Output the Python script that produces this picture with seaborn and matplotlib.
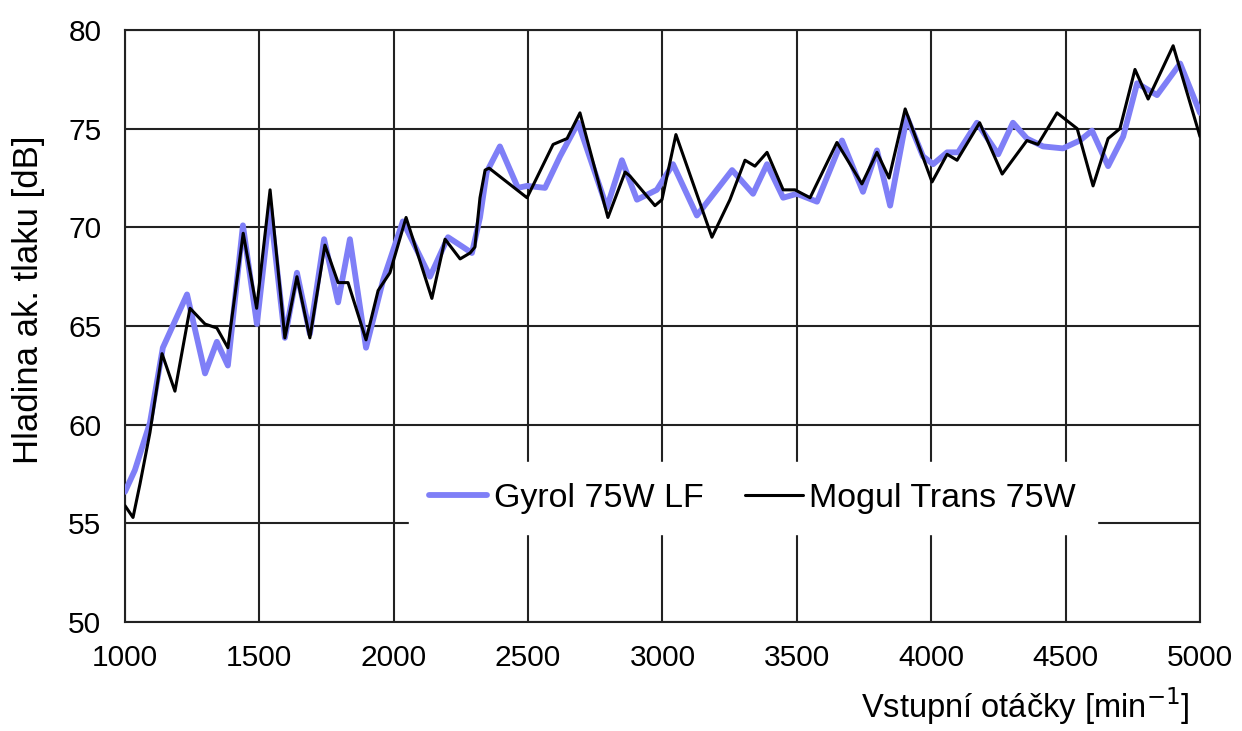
import matplotlib
matplotlib.use("Agg")
import matplotlib.pyplot as plt
import seaborn as sns
import pandas as pd

# Mogul Trans 75W (black)
mogul_rpm = [1000, 1030, 1056, 1093, 1138, 1186, 1242, 1298, 1342, 1383, 1440, 1490,
             1540, 1595, 1640, 1688, 1744, 1793, 1830, 1897, 1942, 1986, 2046, 2142,
             2191, 2247, 2284, 2302, 2321, 2340, 2355, 2496, 2593, 2645, 2693, 2797,
             2861, 2879, 2972, 2998, 3050, 3184, 3251, 3307, 3344, 3389, 3449, 3493,
             3549, 3649, 3742, 3798, 3843, 3903, 4003, 4059, 4096, 4180, 4264, 4356,
             4397, 4468, 4543, 4602, 4658, 4702, 4758, 4807, 4900, 5000]
mogul_db = [55.9, 55.3, 57.0, 59.6, 63.6, 61.7, 65.9, 65.1, 64.9, 63.9, 69.7, 65.9,
            71.9, 64.4, 67.5, 64.4, 69.1, 67.2, 67.2, 64.3, 66.8, 67.7, 70.5, 66.4,
            69.4, 68.4, 68.7, 69.0, 71.5, 72.9, 73.0, 71.5, 74.2, 74.5, 75.8, 70.5,
            72.8, 72.6, 71.1, 71.4, 74.7, 69.5, 71.4, 73.4, 73.1, 73.8, 71.9, 71.9,
            71.5, 74.3, 72.2, 73.8, 72.5, 76.0, 72.3, 73.7, 73.4, 75.3, 72.7, 74.4,
            74.2, 75.8, 75.0, 72.1, 74.5, 75.0, 78.0, 76.5, 79.2, 74.6]

# Gyrol 75W LF (blue)
gyrol_rpm = [1000, 1037, 1093, 1141, 1231, 1298, 1342, 1383, 1439, 1491, 1540, 1595,
             1640, 1688, 1741, 1793, 1837, 1897, 1960, 2034, 2135, 2202, 2258, 2291,
             2321, 2346, 2395, 2462, 2496, 2563, 2619, 2686, 2793, 2849, 2905, 2979,
             3039, 3128, 3259, 3337, 3389, 3449, 3500, 3575, 3668, 3746, 3798, 3847,
             3909, 3969, 4007, 4059, 4100, 4170, 4249, 4304, 4356, 4416, 4490, 4553,
             4598, 4658, 4714, 4766, 4840, 4926, 5000]
gyrol_db = [56.6, 57.7, 60.1, 63.9, 66.6, 62.6, 64.2, 63.0, 70.1, 65.1, 71.0, 64.4,
            67.7, 64.6, 69.4, 66.2, 69.4, 63.9, 67.3, 70.3, 67.5, 69.5, 69.0, 68.7,
            70.5, 72.8, 74.1, 72.0, 72.1, 72.0, 73.6, 75.3, 71.0, 73.4, 71.4, 71.9,
            73.2, 70.6, 72.9, 71.7, 73.2, 71.5, 71.7, 71.3, 74.4, 71.8, 73.9, 71.1,
            75.6, 73.6, 73.2, 73.8, 73.8, 75.3, 73.7, 75.3, 74.5, 74.1, 74.0, 74.4,
            74.9, 73.1, 74.6, 77.3, 76.7, 78.3, 75.8]

x_ticks = [1000, 1500, 2000, 2500, 3000, 3500, 4000, 4500, 5000]
y_ticks = [50, 55, 60, 65, 70, 75, 80]
series_names = ["Gyrol 75W LF", "Mogul Trans 75W"]

sns.set_style("white")
plt.rcParams['font.family'] = ['Liberation Sans', 'DejaVu Sans']
plt.rcParams['text.color'] = 'black'
plt.rcParams['axes.labelcolor'] = 'black'
plt.rcParams['xtick.color'] = 'black'
plt.rcParams['ytick.color'] = 'black'

fig = plt.figure(figsize=(12.42, 7.31), dpi=100)
ax = fig.add_axes([0.1006, 0.149, 0.8656, 0.810])

df_g = pd.DataFrame({"rpm": gyrol_rpm, "db": gyrol_db})
df_m = pd.DataFrame({"rpm": mogul_rpm, "db": mogul_db})

sns.lineplot(data=df_g, x="rpm", y="db", ax=ax, color="#7f7ff7", linewidth=4.2,
             label=series_names[0], zorder=3, solid_joinstyle="round")
sns.lineplot(data=df_m, x="rpm", y="db", ax=ax, color="black", linewidth=2.2,
             label=series_names[1], zorder=4, solid_joinstyle="round")

ax.set_xlim(1000, 5000)
ax.set_ylim(50, 80)
ax.set_xticks(x_ticks)
ax.set_yticks(y_ticks)
ax.grid(True, color="#222222", linewidth=1.5)
ax.set_axisbelow(True)
for sp in ax.spines.values():
    sp.set_color("#222222")
    sp.set_linewidth(1.5)
    sp.set_visible(True)
ax.tick_params(axis="both", length=0, labelsize=21.5, colors="black")
ax.tick_params(axis="x", pad=16)
ax.tick_params(axis="y", pad=17)

ax.set_xlabel("")
ax.set_ylabel("Hladina ak. tlaku [dB]", fontsize=25, color="black")
ax.yaxis.set_label_coords(-0.0744, 0.544)
fig.text(0.958, 0.006, "Vstupní otáčky [min$^{-1}$]", fontsize=23.5, ha="right",
         va="bottom", color="black")

leg = ax.legend(loc="center", bbox_to_anchor=(0.584, 0.209), ncol=2, frameon=True,
                fontsize=24.5, handlelength=1.7, handletextpad=0.2,
                columnspacing=1.2, borderpad=0.6)
leg.get_frame().set_facecolor("white")
leg.get_frame().set_edgecolor("white")
leg.get_frame().set_alpha(1.0)
leg.get_frame().set_boxstyle("square", pad=0.0)
for t in leg.get_texts():
    t.set_color("black")

fig.savefig("out.png", dpi=100, facecolor="white")
